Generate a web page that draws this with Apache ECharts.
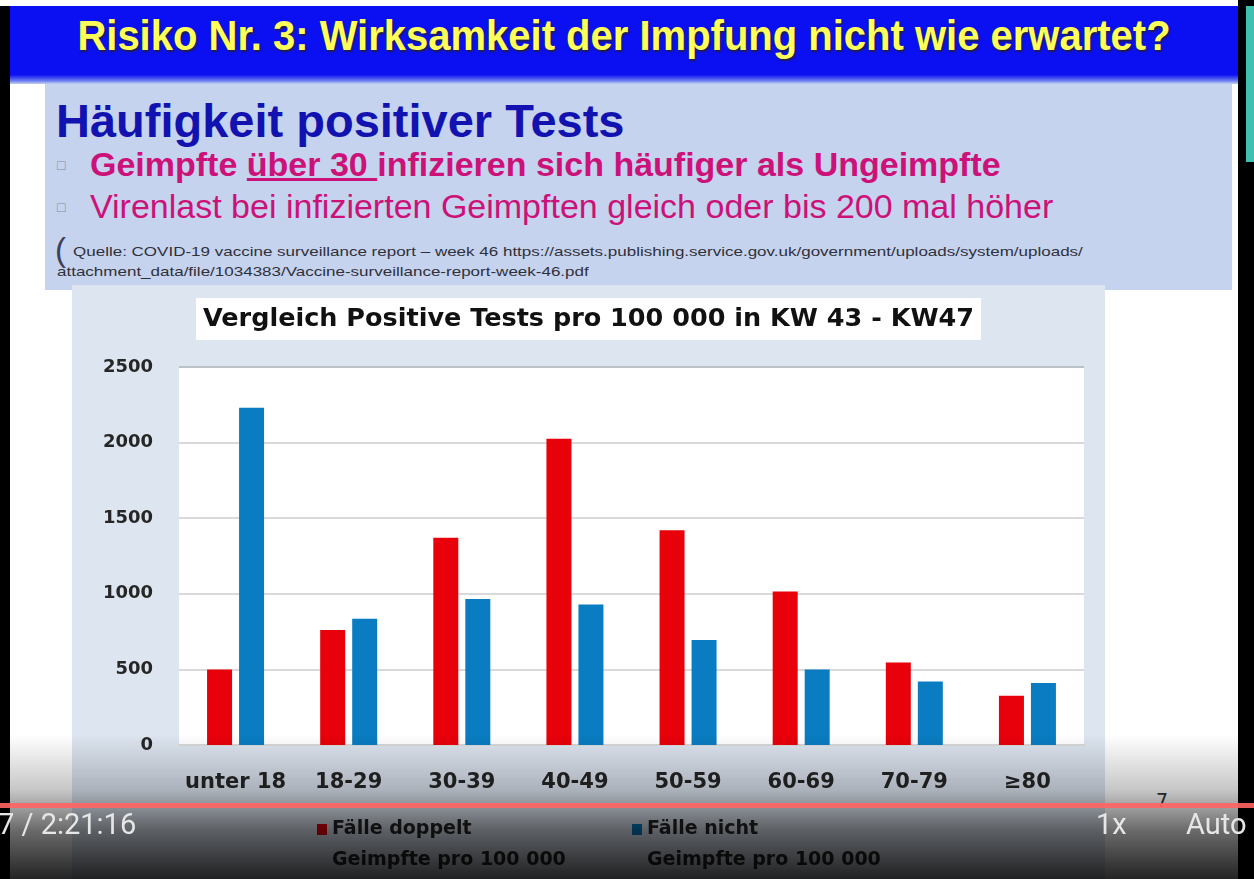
<!DOCTYPE html>
<html>
<head>
<meta charset="utf-8">
<script src="https://cdn.jsdelivr.net/npm/echarts@6/dist/echarts.min.js"></script>
<style>
  html, body { margin: 0; padding: 0; }
  body { width: 1254px; height: 879px; position: relative; overflow: hidden; background: #fff; font-family: "Liberation Sans", Arial, sans-serif; }
  .abs { position: absolute; white-space: nowrap; }
  #leftBorder { left: 0; top: 6px; width: 10px; height: 873px; background: #000; }
  #rightBorder { left: 1238px; top: 0; width: 16px; height: 879px; background: #000; }
  #teal { left: 1246px; top: 6px; width: 8px; height: 156px; background: #3fc0b0; }
  #header { left: 10px; top: 6px; width: 1228px; height: 78px; background: linear-gradient(#0b10f2 0%, #0b10f2 88%, #6f7ff0 96%, #c5d3ee 100%); }
  #headerText { left: 10px; top: 13px; width: 1228px; text-align: center; font-weight: bold; font-size: 40px; color: #ffff5a; text-shadow: 1px 2px 2px #202040; transform: scaleY(1.06); }
  #box { left: 45px; top: 84px; width: 1187px; height: 206px; background: #c5d3ee; }
  #subTitle { left: 56px; top: 93px; font-weight: bold; font-size: 47px; color: #1212b0; }
  .bullet { left: 57px; font-size: 14px; color: #8888a0; }
  .line { left: 90px; font-size: 34px; color: #cc1278; }
  #line1 { top: 145px; font-weight: bold; }
  #line2 { top: 187px; }
  #paren { left: 55px; top: 231px; font-size: 33px; color: #40405a; }
  .src { left: 73px; font-size: 17px; color: #30303a; transform: scaleY(0.8); transform-origin: left top; }
  #chart { left: 72px; top: 285px; width: 1033px; height: 594px; background: #dde5f0; }
  #slideNo { left: 1156px; top: 789px; font-size: 19px; color: #333; font-family: "DejaVu Sans", sans-serif; }
  #overlay { left: 0; top: 735px; width: 1254px; height: 144px; background: linear-gradient(rgba(0,0,0,0) 0%, rgba(0,0,0,0.22) 38%, rgba(0,0,0,0.58) 66%, rgba(0,0,0,0.86) 100%); }
  #progress { left: 0; top: 803px; width: 1254px; height: 5px; background: rgba(255,100,100,0.9); }
  .ctrl { top: 807px; font-family: Roboto, sans-serif; font-size: 29px; color: #e6e6e6; }
</style>
</head>
<body>
<div id="header" class="abs"></div>
<div id="headerText" class="abs">Risiko Nr. 3: Wirksamkeit der Impfung nicht wie erwartet?</div>
<div id="box" class="abs"></div>
<div id="subTitle" class="abs">Häufigkeit positiver Tests</div>
<div class="abs bullet" style="top:157px">&#9633;</div>
<div class="abs bullet" style="top:199px">&#9633;</div>
<div id="line1" class="abs line">Geimpfte <u>über 30 </u>infizieren sich häufiger als Ungeimpfte</div>
<div id="line2" class="abs line">Virenlast bei infizierten Geimpften gleich oder bis 200 mal höher</div>
<div id="paren" class="abs">(</div>
<div class="abs src" style="top:244px">Quelle: COVID-19 vaccine surveillance report – week 46 https://assets.publishing.service.gov.uk/government/uploads/system/uploads/</div>
<div class="abs src" style="top:264px; left:57px">attachment_data/file/1034383/Vaccine-surveillance-report-week-46.pdf</div>
<div id="chart" class="abs"></div>
<div id="slideNo" class="abs">7</div>
<div id="leftBorder" class="abs"></div>
<div id="rightBorder" class="abs"></div>
<div id="teal" class="abs"></div>
<div id="overlay" class="abs"></div>
<div id="progress" class="abs"></div>
<div class="abs ctrl" style="left:-2px">7 / 2:21:16</div>
<div class="abs ctrl" style="left:1096px">1x</div>
<div class="abs ctrl" style="left:1186px">Auto</div>

<script>
// Werte
const categories = ['unter 18', '18-29', '30-39', '40-49', '50-59', '60-69', '70-79', '≥80']
const doppeltGeimpft = [500, 760, 1370, 2025, 1420, 1015, 545, 325]
const ungeimpft = [2230, 835, 965, 930, 695, 500, 420, 410]
const seriesNames = ['Fälle doppelt\nGeimpfte pro 100 000', 'Fälle nicht\nGeimpfte pro 100 000']
const yMin = 0
const yMax = 2500
const yStep = 500

const chartFont = '"DejaVu Sans", sans-serif'
const myChart = echarts.init(document.getElementById('chart'))

const legendText = {
  fontFamily: chartFont,
  fontWeight: 'bold',
  fontSize: 19,
  color: '#262626',
  lineHeight: 31,
  rich: {
    s: { lineHeight: 31, fontSize: 19 }
  }
}
const legendFormatter = name => '{s| }\n' + name

const option = {
  backgroundColor: 'transparent',
  title: {
    text: 'Vergleich Positive Tests pro 100 000 in KW 43 - KW47',
    left: 'center',
    top: 13,
    backgroundColor: '#fff',
    padding: [8, 7, 8, 7],
    textStyle: {
      fontFamily: chartFont,
      fontWeight: 'bold',
      fontSize: 25.5,
      color: '#111'
    }
  },
  legend: [
    {
      data: [seriesNames[0]],
      left: 240,
      top: 493,
      icon: 'rect',
      itemWidth: 10,
      itemHeight: 11,
      formatter: legendFormatter,
      textStyle: legendText
    },
    {
      data: [seriesNames[1]],
      left: 555,
      top: 493,
      icon: 'rect',
      itemWidth: 10,
      itemHeight: 11,
      formatter: legendFormatter,
      textStyle: legendText
    }
  ],
  grid: {
    left: 107,
    right: 21,
    top: 82,
    bottom: 134,
    show: true,
    backgroundColor: '#fff',
    borderWidth: 0
  },
  xAxis: {
    type: 'category',
    data: categories,
    axisTick: { show: false },
    axisLine: { lineStyle: { color: '#d9d9d9', width: 2 } },
    axisLabel: {
      interval: 0,
      margin: 27,
      fontFamily: chartFont,
      fontWeight: 'bold',
      fontSize: 21,
      color: '#262626'
    }
  },
  yAxis: {
    type: 'value',
    min: yMin,
    max: yMax,
    interval: yStep,
    axisLine: { show: false },
    axisTick: { show: false },
    splitLine: {
      lineStyle: {
        color: ['#d9d9d9', '#d9d9d9', '#d9d9d9', '#d9d9d9', '#d9d9d9', '#bcc1c7'],
        width: 2
      }
    },
    axisLabel: {
      margin: 26,
      formatter: v => String(v),
      fontFamily: chartFont,
      fontWeight: 'bold',
      fontSize: 18,
      color: '#262626'
    }
  },
  series: [
    {
      name: seriesNames[0],
      type: 'bar',
      data: doppeltGeimpft,
      barWidth: 25,
      barGap: '28%',
      itemStyle: { color: '#e8000b' }
    },
    {
      name: seriesNames[1],
      type: 'bar',
      data: ungeimpft,
      barWidth: 25,
      itemStyle: { color: '#0a7cc1' }
    }
  ]
}

myChart.setOption(option)
</script>
</body>
</html>
